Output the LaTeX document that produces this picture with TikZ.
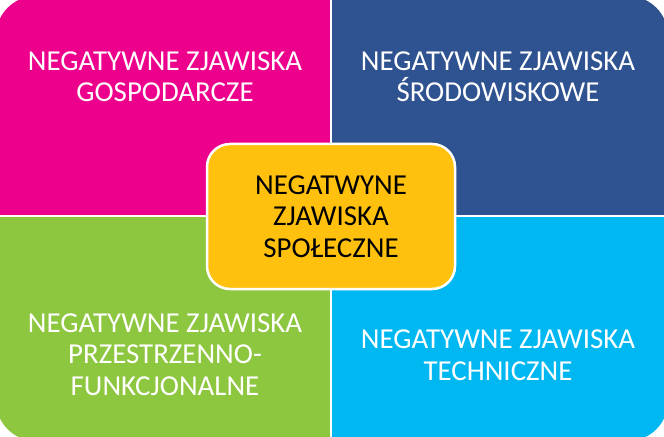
\documentclass[tikz,border=0pt]{standalone}
\usepackage{fontspec}
\setmainfont{Carlito}
\usepackage{tikz}
\definecolor{zjMagenta}{HTML}{EC008C}
\definecolor{zjBlue}{HTML}{2F5290}
\definecolor{zjGreen}{HTML}{8DC63F}
\definecolor{zjCyan}{HTML}{00B8F1}
\definecolor{zjOrange}{HTML}{FFC10E}
\newcommand{\labelFont}[0]{\fontsize{29}{31.5}\selectfont}

\begin{document}
\begin{tikzpicture}[x=1bp, y=-1bp]
  \tikzset{quad label/.style={align=center,anchor=base,text=white,font=\labelFont,inner sep=0pt},
    center box/.style={align=center,text=black,font=\labelFont,fill=zjOrange,draw=white,
      line width=2.5bp,rounded corners=23bp,minimum width=248bp,minimum height=145bp}}
  \useasboundingbox (0,0) rectangle (664,437);
  \begin{scope}
    \clip[rounded corners=40bp] (-4,-4) rectangle (668,441);
    \fill[zjMagenta] (-4,-4) rectangle (331,216);
    \fill[zjBlue] (331,-4) rectangle (668,216);
    \fill[zjGreen] (-4,216) rectangle (331,441);
    \fill[zjCyan] (331,216) rectangle (668,441);
  \end{scope}
  \draw[white, line width=2.5bp] (331,-4) -- (331,441);
  \draw[white, line width=2.5bp] (-4,216) -- (668,216);
  % anchor base = last line
  \node[quad label] (gosp) at (165,102) {NEGATYWNE ZJAWISKA\\GOSPODARCZE};
  \node[quad label] (srod) at (498,102) {NEGATYWNE ZJAWISKA\\ŚRODOWISKOWE};
  \node[quad label] (przestrz) at (165,395) {NEGATYWNE ZJAWISKA\\PRZESTRZENNO-\\FUNKCJONALNE};
  \node[quad label] (tech) at (498,380) {NEGATYWNE ZJAWISKA\\TECHNICZNE};
  \node[center box] (spol) at (331,216.5) {NEGATWYNE\\ZJAWISKA\\SPOŁECZNE};
\end{tikzpicture}
\end{document}
